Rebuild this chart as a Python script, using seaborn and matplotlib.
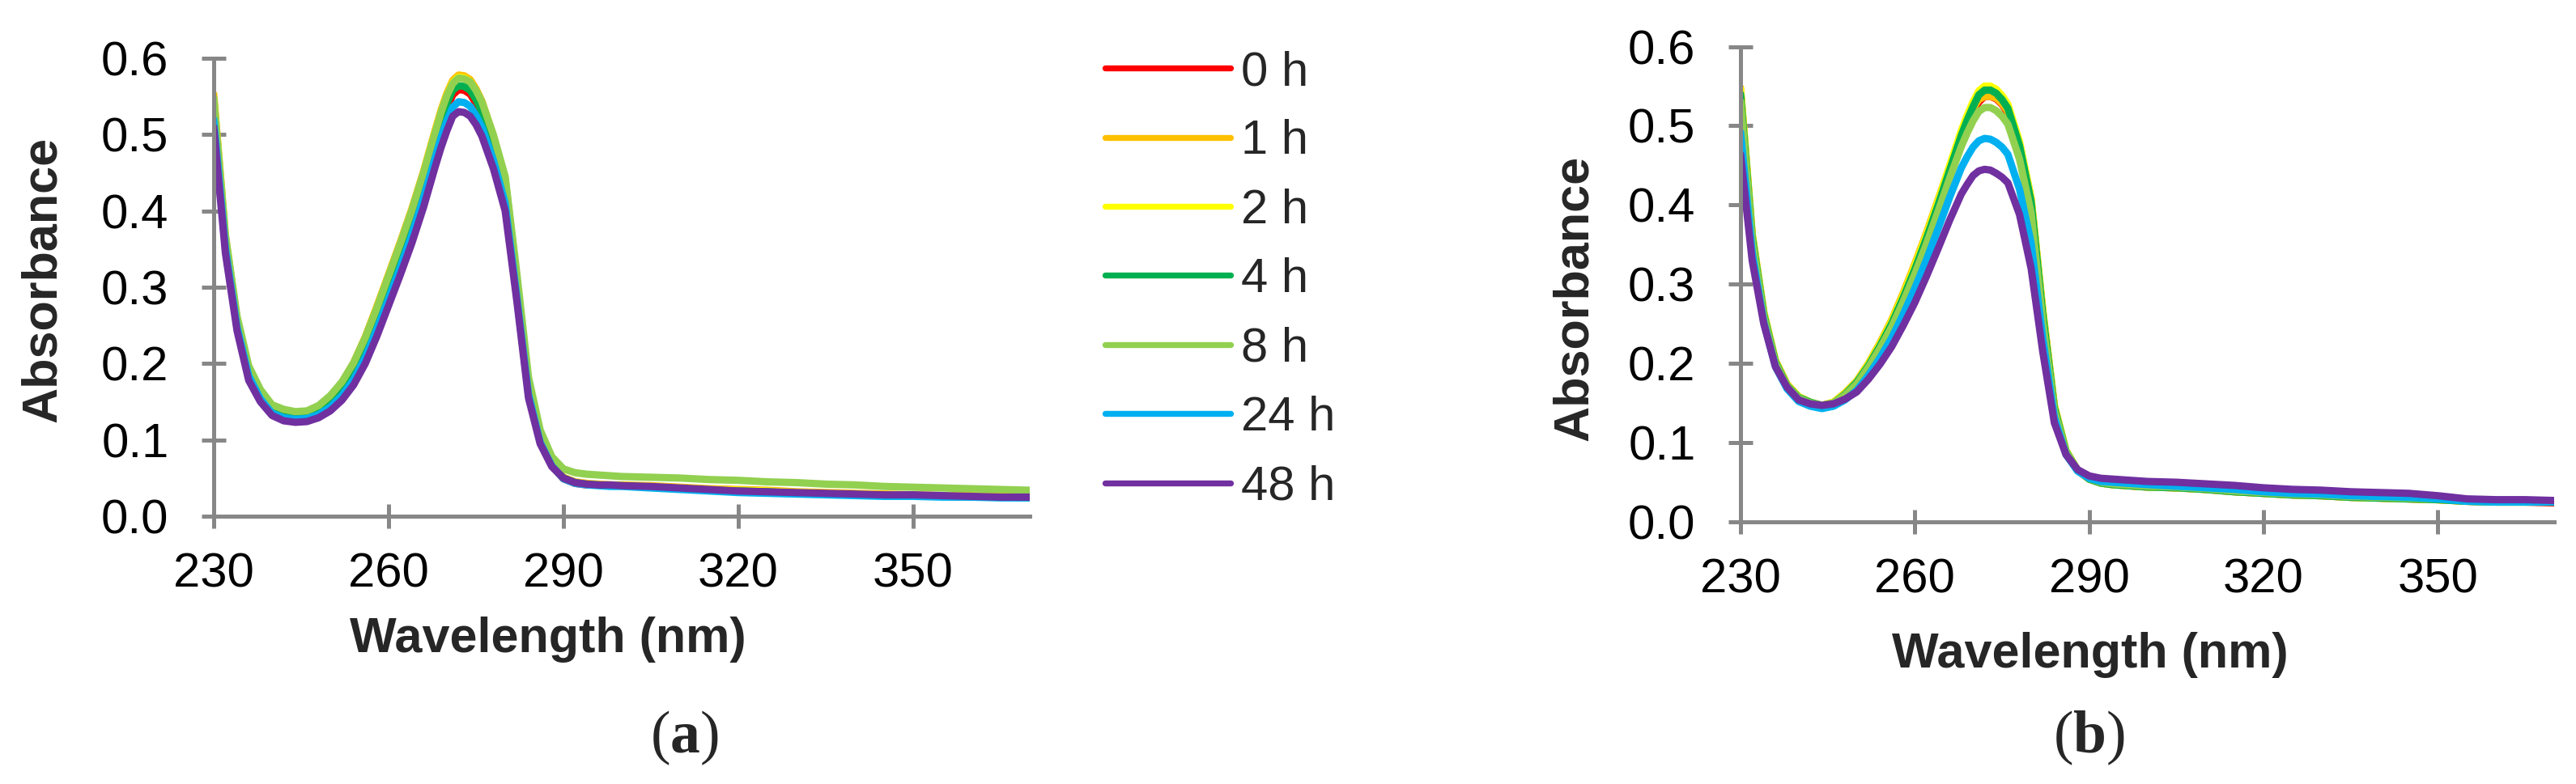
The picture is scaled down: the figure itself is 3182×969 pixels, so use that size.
import numpy as np
import pandas as pd
import matplotlib
matplotlib.use("Agg")
import matplotlib.pyplot as plt
from matplotlib.ticker import FormatStrFormatter
import seaborn as sns

# ---------------- data ----------------
wavelength = [230, 232, 234, 236, 238, 240, 242, 244, 246, 248, 250, 252, 254, 256, 258,
              260, 262, 264, 266, 268, 269, 270, 271, 272, 273, 274, 275, 276, 278, 280,
              282, 284, 286, 288, 290, 292, 294, 296, 298, 300, 305, 310, 315, 320, 325,
              330, 335, 340, 345, 350, 355, 360, 365, 370]

times = ["0 h", "1 h", "2 h", "4 h", "8 h", "24 h", "48 h"]
colors = ["#FF0000", "#FFC000", "#FFFF00", "#00B050", "#92D050", "#00B0F0", "#7030A0"]

# panel (a)
a_0h = [0.525,0.355,0.250,0.185,0.155,0.136,0.130,0.126,0.127,0.134,0.146,0.164,0.188,0.220,0.258,0.299,0.340,0.383,0.432,
        0.486,0.512,0.534,0.552,0.559,0.558,0.553,0.541,0.525,
        0.480,0.424,0.295,0.163,0.098,0.066,0.049,0.043,0.041,0.041,0.040,0.040,
        0.039,0.037,0.035,0.034,0.033,0.031,0.030,0.029,0.028,0.027,0.026,0.026,0.025,0.025]
a_1h = [0.553,0.368,0.258,0.191,0.159,0.141,0.134,0.130,0.132,0.140,0.155,0.175,0.201,0.235,0.275,0.317,0.359,0.403,0.452,
        0.506,0.532,0.554,0.571,0.578,0.577,0.572,0.560,0.544,
        0.498,0.442,0.310,0.172,0.103,0.069,0.051,0.045,0.043,0.042,0.041,0.041,
        0.040,0.038,0.036,0.035,0.034,0.032,0.031,0.030,0.029,0.028,0.027,0.027,0.026,0.026]
a_2h = [0.545,0.364,0.256,0.190,0.158,0.140,0.133,0.129,0.131,0.139,0.153,0.173,0.199,0.232,0.272,0.314,0.356,0.400,0.449,
        0.503,0.529,0.551,0.568,0.575,0.574,0.569,0.557,0.541,
        0.495,0.439,0.307,0.170,0.102,0.068,0.050,0.044,0.042,0.041,0.041,0.040,
        0.039,0.037,0.035,0.034,0.033,0.031,0.030,0.029,0.028,0.027,0.027,0.026,0.025,0.025]
a_4h = [0.535,0.360,0.253,0.188,0.157,0.138,0.132,0.129,0.130,0.137,0.150,0.168,0.193,0.225,0.264,0.305,0.347,0.391,0.440,
        0.494,0.519,0.541,0.558,0.564,0.563,0.558,0.546,0.530,
        0.485,0.430,0.300,0.166,0.100,0.067,0.050,0.044,0.042,0.041,0.040,0.040,
        0.038,0.036,0.034,0.033,0.032,0.030,0.029,0.028,0.027,0.027,0.026,0.025,0.025,0.024]
a_8h = [0.548,0.368,0.262,0.197,0.166,0.146,0.140,0.137,0.138,0.145,0.158,0.176,0.201,0.234,0.273,0.315,0.357,0.401,0.450,
        0.503,0.529,0.551,0.567,0.574,0.573,0.569,0.558,0.543,
        0.499,0.445,0.318,0.182,0.113,0.078,0.062,0.057,0.055,0.054,0.053,0.052,
        0.051,0.050,0.048,0.047,0.045,0.044,0.042,0.041,0.039,0.038,0.037,0.036,0.035,0.034]
a_24h = [0.520,0.352,0.248,0.184,0.154,0.135,0.129,0.127,0.128,0.133,0.143,0.158,0.179,0.208,0.245,0.285,0.326,0.369,0.417,
         0.470,0.496,0.518,0.536,0.543,0.542,0.537,0.525,0.510,
         0.466,0.410,0.288,0.160,0.097,0.066,0.049,0.043,0.041,0.040,0.039,0.039,
         0.037,0.035,0.033,0.031,0.030,0.029,0.028,0.027,0.026,0.026,0.025,0.025,0.024,0.024]
a_48h = [0.510,0.345,0.243,0.178,0.150,0.132,0.125,0.123,0.124,0.129,0.138,0.152,0.172,0.200,0.236,0.276,0.316,0.358,0.405,
         0.458,0.483,0.505,0.524,0.530,0.529,0.524,0.513,0.498,
         0.455,0.400,0.282,0.155,0.095,0.065,0.050,0.044,0.042,0.041,0.041,0.040,
         0.039,0.037,0.035,0.033,0.032,0.031,0.030,0.029,0.028,0.028,0.027,0.026,0.025,0.025]

# panel (b)
b_0h = [0.543,0.361,0.263,0.202,0.172,0.157,0.150,0.147,0.150,0.161,0.175,0.196,0.221,0.249,0.281,0.317,0.356,0.397,0.439,
        0.480,0.499,0.516,0.530,0.537,0.537,0.534,0.527,0.516,
        0.473,0.405,0.264,0.145,0.089,0.065,0.054,0.049,0.047,0.046,0.045,0.044,
        0.043,0.041,0.038,0.036,0.034,0.033,0.031,0.030,0.029,0.028,0.026,0.025,0.025,0.024]
b_1h = [0.548,0.364,0.265,0.204,0.174,0.158,0.151,0.147,0.151,0.163,0.178,0.200,0.226,0.255,0.289,0.326,0.365,0.407,0.449,
        0.488,0.506,0.522,0.533,0.537,0.537,0.535,0.528,0.518,
        0.477,0.409,0.268,0.147,0.090,0.065,0.054,0.049,0.047,0.046,0.045,0.044,
        0.043,0.041,0.039,0.036,0.034,0.033,0.031,0.030,0.029,0.028,0.026,0.025,0.025,0.025]
b_2h = [0.546,0.363,0.264,0.203,0.173,0.158,0.151,0.147,0.151,0.162,0.177,0.199,0.224,0.253,0.286,0.323,0.362,0.405,0.450,
        0.494,0.513,0.530,0.544,0.550,0.550,0.546,0.538,0.527,
        0.480,0.408,0.266,0.146,0.090,0.065,0.054,0.049,0.047,0.046,0.045,0.044,
        0.043,0.041,0.038,0.036,0.034,0.033,0.031,0.030,0.029,0.028,0.026,0.025,0.025,0.025]
b_4h = [0.540,0.360,0.262,0.202,0.172,0.157,0.151,0.147,0.150,0.161,0.176,0.197,0.222,0.250,0.283,0.319,0.358,0.400,0.444,
        0.488,0.507,0.524,0.539,0.545,0.545,0.541,0.533,0.522,
        0.475,0.404,0.262,0.144,0.089,0.065,0.054,0.049,0.047,0.046,0.045,0.044,
        0.043,0.041,0.038,0.036,0.034,0.033,0.031,0.030,0.029,0.028,0.026,0.025,0.025,0.025]
b_8h = [0.531,0.355,0.259,0.200,0.171,0.156,0.150,0.147,0.150,0.160,0.174,0.195,0.219,0.246,0.278,0.313,0.351,0.392,0.434,
        0.474,0.491,0.506,0.518,0.523,0.523,0.519,0.512,0.502,
        0.458,0.390,0.252,0.140,0.088,0.065,0.055,0.050,0.048,0.047,0.046,0.045,
        0.044,0.042,0.039,0.037,0.035,0.034,0.032,0.031,0.030,0.029,0.027,0.026,0.026,0.026]
b_24h = [0.492,0.340,0.252,0.196,0.168,0.152,0.146,0.143,0.146,0.154,0.166,0.185,0.207,0.232,0.262,0.295,0.331,0.370,0.410,
         0.447,0.461,0.473,0.481,0.484,0.483,0.479,0.473,0.464,
         0.420,0.352,0.232,0.132,0.085,0.064,0.055,0.051,0.050,0.049,0.048,0.047,
         0.045,0.043,0.041,0.038,0.036,0.035,0.033,0.032,0.031,0.029,0.026,0.025,0.025,0.025]
b_48h = [0.464,0.330,0.250,0.196,0.170,0.154,0.149,0.147,0.149,0.155,0.164,0.180,0.199,0.221,0.248,0.277,0.310,0.345,0.381,
         0.414,0.426,0.437,0.443,0.445,0.444,0.440,0.435,0.428,
         0.388,0.320,0.215,0.125,0.085,0.066,0.058,0.055,0.054,0.053,0.052,0.051,
         0.050,0.048,0.046,0.043,0.041,0.040,0.038,0.037,0.036,0.033,0.029,0.028,0.028,0.027]

x_ticks = [230, 260, 290, 320, 350]
y_ticks = [0.0, 0.1, 0.2, 0.3, 0.4, 0.5, 0.6]


def to_long(series_list):
    frames = []
    for t, vals in zip(times, series_list):
        frames.append(pd.DataFrame({"Wavelength": wavelength, "Absorbance": vals, "Time": t}))
    return pd.concat(frames, ignore_index=True)


df_a = to_long([a_0h, a_1h, a_2h, a_4h, a_8h, a_24h, a_48h])
df_b = to_long([b_0h, b_1h, b_2h, b_4h, b_8h, b_24h, b_48h])

# ---------------- style ----------------
sns.set_style("ticks")
plt.rcParams["font.family"] = ["Liberation Sans", "DejaVu Sans"]
plt.rcParams["mathtext.fontset"] = "custom"
plt.rcParams["mathtext.rm"] = "Liberation Serif"
plt.rcParams["mathtext.bf"] = "Liberation Serif:bold"

W, H = 3182, 969
fig = plt.figure(figsize=(W / 100, H / 100), dpi=100)
fig.patch.set_facecolor("white")

ax_a = fig.add_axes([264 / W, 1 - 638 / H, (1272 - 264) / W, (638 - 72) / H])
ax_b = fig.add_axes([2150 / W, 1 - 645 / H, (3155 - 2150) / W, (645 - 57.5) / H])

axis_gray = "#878787"
LW = 6.5

for ax, df, show_leg in [(ax_a, df_a, True), (ax_b, df_b, False)]:
    sns.lineplot(data=df, x="Wavelength", y="Absorbance", hue="Time", hue_order=times,
                 palette=colors, linewidth=LW, estimator=None, sort=False,
                 legend=show_leg, ax=ax)
    for ln in ax.get_lines():
        ln.set_solid_joinstyle("round")
    ax.set_xlim(230, 370)
    ax.set_ylim(0, 0.6)
    ax.set_xticks(x_ticks)
    ax.set_yticks(y_ticks)
    ax.yaxis.set_major_formatter(FormatStrFormatter("%.1f"))
    for s in ["top", "right"]:
        ax.spines[s].set_visible(False)
    for s in ["left", "bottom"]:
        ax.spines[s].set_color(axis_gray)
        ax.spines[s].set_linewidth(3.6)
    ax.tick_params(axis="both", direction="inout", length=22, width=3.6, color=axis_gray,
                   labelsize=43, labelcolor="black")
    ax.tick_params(axis="x", pad=21)
    ax.tick_params(axis="y", pad=29)
    ax.set_facecolor("white")

ax_a.set_xlabel("Wavelength (nm)", fontsize=44, fontweight="bold", va="baseline")
ax_a.xaxis.set_label_coords((677 - 264) / 1008, (638 - 806) / 566)
ax_a.set_ylabel("Absorbance", fontsize=44, fontweight="bold", va="center")
ax_a.yaxis.set_label_coords((53 - 264) / 1008, (638 - 345) / 566)

ax_b.set_xlabel("Wavelength (nm)", fontsize=44, fontweight="bold", va="baseline")
ax_b.xaxis.set_label_coords((2582 - 2150) / 1005, (645 - 825) / 587.5)
ax_b.set_ylabel("Absorbance", fontsize=44, fontweight="bold", va="center")
ax_b.yaxis.set_label_coords((1945 - 2150) / 1005, (645 - 368) / 587.5)

handles, labels = ax_a.get_legend_handles_labels()
ax_a.get_legend().remove()
for h in handles:
    h.set_linewidth(5.3)
    h.set_solid_capstyle("round")
fig.legend(handles, labels, loc="upper left", bbox_to_anchor=(1365 / W, 1 - 62 / H),
           frameon=False, fontsize=43, handlelength=2.6, handletextpad=0.22,
           labelspacing=0.51, borderpad=0, borderaxespad=0)

fig.text(845 / W, 1 - 930 / H, r"($\mathbf{a}$)", ha="center", va="baseline",
         fontsize=53, family="Liberation Serif")
fig.text(2580 / W, 1 - 930 / H, r"($\mathbf{b}$)", ha="center", va="baseline",
         fontsize=53, family="Liberation Serif")

fig.savefig("out.png", dpi=100, facecolor="white")
